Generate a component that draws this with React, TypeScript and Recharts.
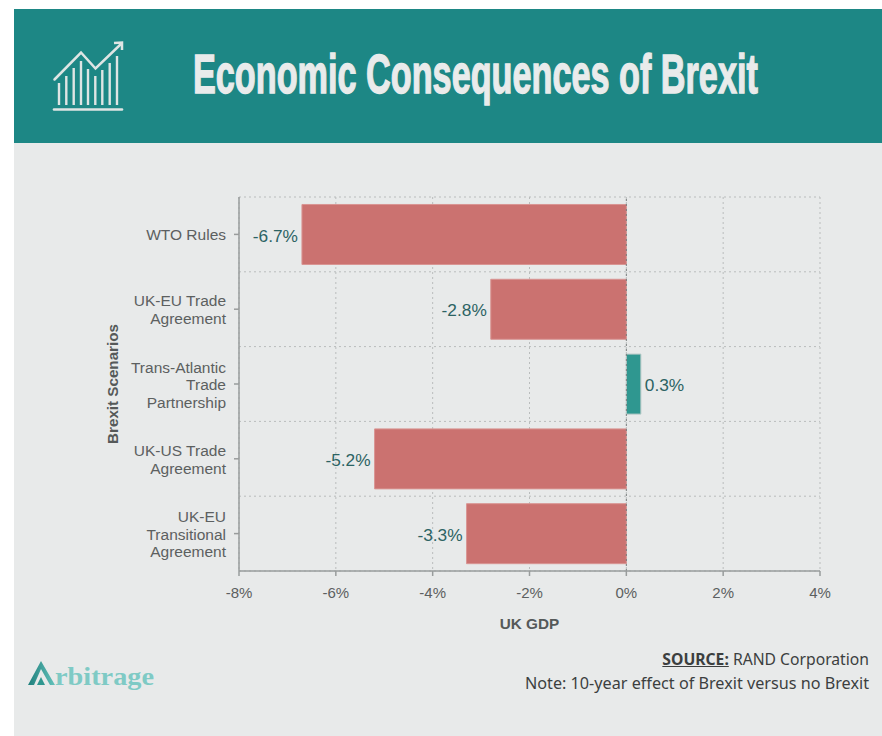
import { Bar, BarChart, CartesianGrid, Cell, LabelList, ReferenceLine, XAxis, YAxis } from 'recharts';

const scenarios = ['WTO Rules', 'UK-EU Trade Agreement', 'Trans-Atlantic Trade Partnership', 'UK-US Trade Agreement', 'UK-EU Transitional Agreement'];
const scenarioLines = [['WTO Rules'], ['UK-EU Trade', 'Agreement'], ['Trans-Atlantic', 'Trade', 'Partnership'], ['UK-US Trade', 'Agreement'], ['UK-EU', 'Transitional', 'Agreement']];
const gdpEffect = [-6.7, -2.8, 0.3, -5.2, -3.3];
const gdpTicks = [-8, -6, -4, -2, 0, 2, 4];

const rows = scenarios.map((scenario, i) => ({ scenario, gdp: gdpEffect[i] }));

const TEAL = '#1d8785';
const PANEL = '#e8eaea';
const SANS = '"Liberation Sans", Arial, sans-serif';

function ScenarioTick({ x, y, index }: any) {
  const lines = scenarioLines[index] ?? [];
  const lineHeight = 17.5;
  const startY = y - ((lines.length - 1) * lineHeight) / 2 + 6;
  return (
    <text x={x} y={startY} textAnchor="end" fontFamily={SANS} fontSize={15.5} fill="#5c6060">
      {lines.map((line: string, i: number) => (
        <tspan key={line} x={x} dy={i === 0 ? 0 : lineHeight}>{line}</tspan>
      ))}
    </text>
  );
}

function ChartIcon() {
  const barX = [59, 66.3, 73.7, 81, 88, 95.3, 102.3, 109.7, 117];
  const barTop = [83, 76, 68, 61, 69, 76, 70, 63, 56];
  return (
    <svg width={90} height={90} viewBox="40 30 90 90" style={{ position: 'absolute', left: 40, top: 30 }} stroke="#dfe5e4" fill="none">
      {barX.map((x, i) => <line key={x} x1={x} x2={x} y1={barTop[i]} y2={105} strokeWidth={2.4} />)}
      <line x1={54} x2={122} y1={109.5} y2={109.5} strokeWidth={2.6} strokeLinecap="round" />
      <polyline points="54.5,79.5 81,52.5 95.5,68.5 121,44" strokeWidth={2.5} strokeLinecap="round" />
      <polyline points="114,43 122,42.5 122,50" strokeWidth={2.5} />
    </svg>
  );
}

function Logo() {
  return (
    <svg width={140} height={40} viewBox="25 655 140 40" style={{ position: 'absolute', left: 25, top: 655 }}>
      <defs>
        <linearGradient id="logoFade" x1="0" x2="1" y1="0" y2="0">
          <stop offset="0" stopColor="#1f7f7c" />
          <stop offset="1" stopColor="#63c2bb" />
        </linearGradient>
      </defs>
      <polygon points="28,685 41,661 55,685 50,685 41,669 34,685" fill="url(#logoFade)" />
      <polygon points="37,685 41,677 45,685" fill="#2f9790" />
      <text x={55} y={685} fontFamily='"Liberation Serif", serif' fontWeight={700} fontSize={25} fill="#7fcac5" textLength={99} lengthAdjust="spacingAndGlyphs">rbitrage</text>
    </svg>
  );
}

export default function App() {
  return (
    <div style={{ position: 'absolute', left: 0, top: 0, width: 882, height: 736, background: '#fff', overflow: 'hidden' }}>
      <div style={{ position: 'absolute', left: 14, top: 9, width: 868, height: 727, background: PANEL }} />
      <div style={{ position: 'absolute', left: 14, top: 9, width: 868, height: 134, background: TEAL }} />
      <ChartIcon />
      <svg width={882} height={143} style={{ position: 'absolute', left: 0, top: 0 }}>
        {/* condensed heading: no narrow face is installed, so the bold sans is squeezed */}
        <g transform="translate(193,92.5) scale(0.65,1)">
          <text fontFamily='"Liberation Sans", sans-serif' fontWeight={700} fontSize={56} fill="#e9ebeb" stroke="#e9ebeb" strokeWidth={1.4} textLength={869} lengthAdjust="spacingAndGlyphs">
            Economic Consequences of Brexit
          </text>
        </g>
      </svg>

      <div style={{ position: 'absolute', left: 14, top: 143 }}>
        <BarChart
          width={868}
          height={516}
          data={rows}
          layout="vertical"
          barCategoryGap="10%"
          margin={{ top: 54, right: 62, bottom: 0, left: 30 }}
        >
          <CartesianGrid
            stroke="#b9bcbc"
            strokeDasharray="2 3"
            horizontalCoordinatesGenerator={({ offset }: any) =>
              [0, 1, 2, 3, 4, 5].map((i) => offset.top + (i * offset.height) / 5)
            }
          />
          <XAxis
            type="number"
            domain={[-8, 4]}
            ticks={gdpTicks}
            tickFormatter={(v) => `${v}%`}
            height={88}
            stroke="#999c9c"
            strokeWidth={1.5}
            tickSize={5}
            tickMargin={11}
            tick={{ fill: '#5c6060', fontSize: 15, fontFamily: SANS }}
            label={{ value: 'UK GDP', position: 'insideTop', offset: 47, fill: '#555959', fontSize: 15.3, fontWeight: 700, fontFamily: SANS }}
          />
          <YAxis
            type="category"
            dataKey="scenario"
            width={195}
            interval={0}
            stroke="#999c9c"
            strokeWidth={1.5}
            tickSize={5}
            tickMargin={8}
            tick={<ScenarioTick />}
            label={{ value: 'Brexit Scenarios', angle: -90, position: 'insideLeft', offset: 69, fill: '#555959', fontSize: 15.2, fontWeight: 700, fontFamily: SANS, style: { textAnchor: 'middle' } }}
          />
          <Bar dataKey="gdp" isAnimationActive={false}>
            {rows.map((row) => (
              <Cell
                key={row.scenario}
                fill={row.gdp < 0 ? '#cb7270' : '#2f9790'}
                stroke={row.gdp < 0 ? '#d99593' : '#b5c9c6'}
              />
            ))}
            <LabelList
              dataKey="gdp"
              position="right"
              offset={4}
              dy={1}
              formatter={(v: any) => `${v}%`}
              style={{ fill: '#2c6363', fontSize: 17.3, fontFamily: SANS }}
            />
          </Bar>
          <ReferenceLine x={0} stroke="#777b7b" strokeDasharray="2 3" />
        </BarChart>
      </div>

      <Logo />
      <div style={{ position: 'absolute', right: 13, top: 647, textAlign: 'right', fontFamily: '"Noto Sans", sans-serif', fontSize: 16.2, lineHeight: '24px', color: '#3c3f3f' }}>
        <div style={{ fontSize: 15.7 }}><span style={{ fontWeight: 700, textDecoration: 'underline' }}>SOURCE:</span> RAND Corporation</div>
        <div>Note: 10-year effect of Brexit versus no Brexit</div>
      </div>
    </div>
  );
}
